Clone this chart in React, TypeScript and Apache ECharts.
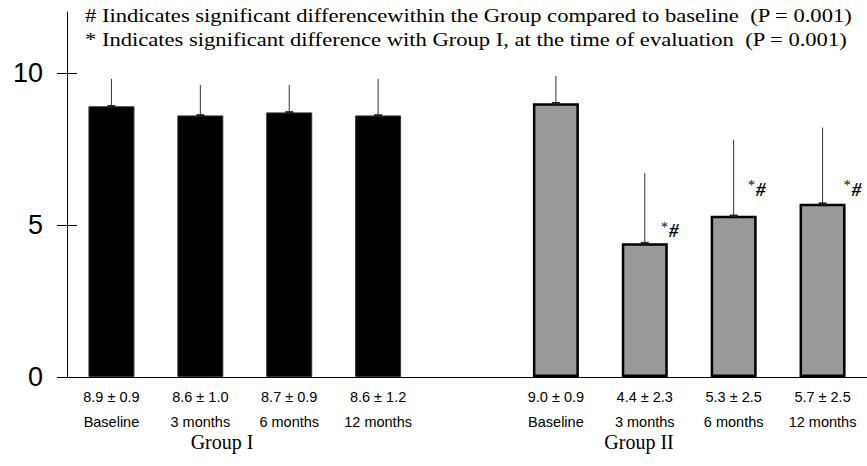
import React, { useEffect, useRef } from "react";
import * as echarts from "echarts";

// Mean visual score per visit, two groups separated by an empty slot
const visits = ["Baseline", "3 months", "6 months", "12 months"];
const groupIMeans = [8.9, 8.6, 8.7, 8.6];
const groupISD = [0.9, 1.0, 0.9, 1.2];
const groupIIMeans = [9.0, 4.4, 5.3, 5.7];
const groupIISD = [0.9, 2.3, 2.5, 2.5];
// significance markers for Group II visits
const groupIIMarks = ["", "*#", "*#", "*#"];
const markOffsets: [number, number][] = [[0, 0], [25, -2], [23, -16], [30, -4]];
const yTicks = [0, 5, 10];
const headerLines = [
  "# Iindicates significant differencewithin the Group compared to baseline  (P = 0.001)",
  "* Indicates significant difference with Group I, at the time of evaluation  (P = 0.001)",
];
const groupNames = ["Group I", "Group II"];

const SANS = "'Liberation Sans', Arial, Helvetica, sans-serif";
const SERIF = "'Liberation Serif', 'Times New Roman', serif";

const fmt = (m: number, s: number) => `${m.toFixed(1)} ± ${s.toFixed(1)}`;

export default function App() {
  const ref = useRef<HTMLDivElement>(null);

  useEffect(() => {
    if (!ref.current) return;
    const chart = echarts.init(ref.current, null, { renderer: "svg" });

    const categories: string[] = [
      ...visits.map((v, i) => `${fmt(groupIMeans[i], groupISD[i])}\n${v}`),
      "",
      ...visits.map((v, i) => `${fmt(groupIIMeans[i], groupIISD[i])}\n${v}`),
    ];

    const barData: any[] = [
      ...groupIMeans.map((v) => ({
        value: v,
        itemStyle: { color: "#000", borderColor: "#333", borderWidth: 1 },
      })),
      "-",
      ...groupIIMeans.map((v, i) => ({
        value: v,
        itemStyle: { color: "#999999", borderColor: "#000", borderWidth: 2.5 },
        label: groupIIMarks[i]
          ? {
              show: true,
              position: "top",
              distance: 0,
              offset: markOffsets[i],
              formatter: "{s|*}{h|#}",
              rich: {
                s: { fontSize: 14, fontFamily: SERIF, color: "#000", padding: [0, 1, 7, 0] },
                h: { fontSize: 19, fontFamily: SERIF, fontStyle: "italic", fontWeight: "bold", color: "#000" },
              },
            }
          : { show: false },
      })),
    ];

    const errData: number[][] = [
      ...groupIMeans.map((v, i) => [i, v, groupISD[i]]),
      ...groupIIMeans.map((v, i) => [i + 5, v, groupIISD[i]]),
    ];

    chart.setOption({
      animation: false,
      grid: { left: 67, right: 0, top: 12, bottom: 89, containLabel: false },
      xAxis: {
        type: "category",
        data: categories,
        axisLine: { lineStyle: { color: "#000", width: 1 } },
        axisTick: { show: false },
        axisLabel: {
          interval: 0,
          margin: 7,
          fontSize: 14.5,
          lineHeight: 25,
          fontFamily: SANS,
          color: "#000",
        },
      },
      yAxis: [
        {
          type: "value",
          min: 0,
          max: 12,
          interval: 5,
          splitLine: { show: false },
          axisLine: { show: true, lineStyle: { color: "#000", width: 1 } },
          axisTick: { show: true, length: 10, customValues: yTicks, lineStyle: { color: "#000" } },
          axisLabel: { fontSize: 27, fontFamily: SANS, color: "#000", margin: 24, customValues: yTicks },
        },
        {
          type: "value",
          position: "left",
          min: 0,
          max: 12,
          interval: 5,
          splitLine: { show: false },
          axisLine: { show: false },
          axisLabel: { show: false },
          axisTick: { show: true, inside: true, length: 10, customValues: yTicks, lineStyle: { color: "#000" } },
        },
      ],
      series: [
        {
          type: "bar",
          data: barData,
          barWidth: 46,
          z: 2,
        },
        {
          type: "custom",
          z: 3,
          data: errData,
          renderItem: (params: any, api: any) => {
            const x = api.value(0);
            const m = api.value(1);
            const s = api.value(2);
            const base = api.coord([x, m]);
            const top = api.coord([x, m + s]);
            return {
              type: "group",
              children: [
                {
                  type: "line",
                  shape: { x1: base[0], y1: base[1], x2: top[0], y2: top[1] },
                  style: { stroke: "#333", lineWidth: 1 },
                },
                {
                  type: "line",
                  shape: { x1: base[0] - 4, y1: base[1], x2: base[0] + 4, y2: base[1] },
                  style: { stroke: "#222", lineWidth: 2.5 },
                },
              ],
            };
          },
        },
      ],
      graphic: [
        ...headerLines.map((t, i) => ({
          type: "text",
          x: 85,
          y: 7 + i * 24,
          scaleX: 1.255,
          style: { text: t, fontSize: 18, fontFamily: SERIF, fill: "#000" },
        })),
        {
          type: "text",
          x: 222,
          y: 442,
          style: { text: groupNames[0], fontSize: 20, fontFamily: SERIF, fill: "#000", align: "center", verticalAlign: "middle" },
        },
        {
          type: "text",
          x: 639,
          y: 442,
          style: { text: groupNames[1], fontSize: 20, fontFamily: SERIF, fill: "#000", align: "center", verticalAlign: "middle" },
        },
      ],
    });

    return () => chart.dispose();
  }, []);

  return (
    <div
      ref={ref}
      style={{ position: "fixed", left: 0, top: 0, width: 867, height: 466, background: "#fff" }}
    />
  );
}
